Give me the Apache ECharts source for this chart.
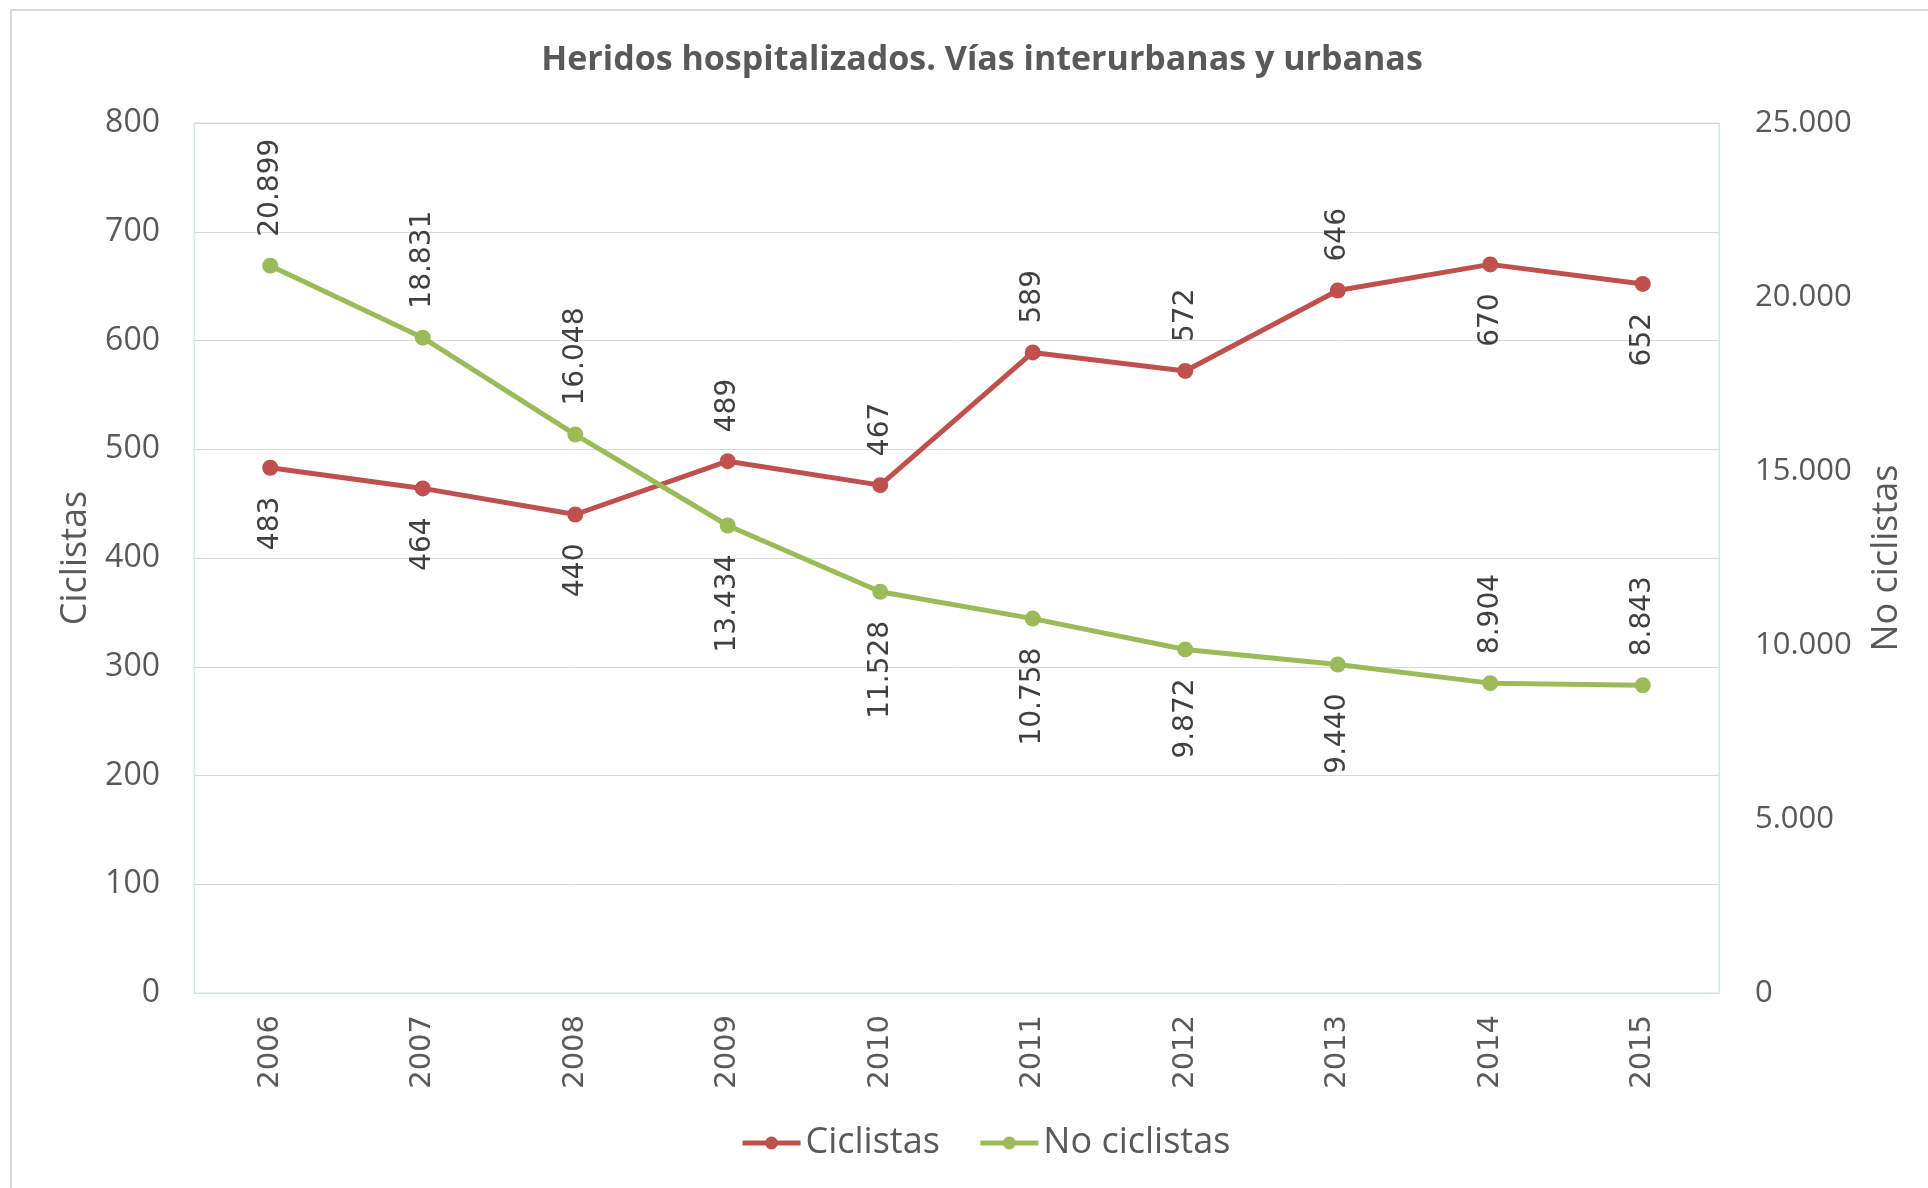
<!DOCTYPE html>
<html>
<head>
    <meta charset="utf-8">
    <title>Heridos hospitalizados</title>
    <script src="https://cdn.jsdelivr.net/npm/echarts@6/dist/echarts.min.js"></script>
</head>
<style>
    html, body { margin: 0; padding: 0; background: #fff; }
    #main { width: 1928px; height: 1188px; }
</style>
<body>
<div id="main"></div>
<script>
    // datos
    var years = ['2006', '2007', '2008', '2009', '2010', '2011', '2012', '2013', '2014', '2015'];
    var ciclistas = [483, 464, 440, 489, 467, 589, 572, 646, 670, 652];
    var noCiclistas = [20899, 18831, 16048, 13434, 11528, 10758, 9872, 9440, 8904, 8843];
    // lado de la etiqueta de cada punto
    var ladoCiclistas = ['bottom', 'bottom', 'bottom', 'top', 'top', 'top', 'top', 'top', 'bottom', 'bottom'];
    var ladoNoCiclistas = ['top', 'top', 'top', 'bottom', 'bottom', 'bottom', 'bottom', 'bottom', 'top', 'top'];

    function miles(v) {
        return String(v).replace(/\B(?=(\d{3})+(?!\d))/g, '.');
    }

    function puntos(values, lados) {
        var out = [];
        for (var i = 0; i < values.length; i++) {
            var arriba = lados[i] === 'top';
            out.push({
                value: values[i],
                label: {position: lados[i], align: arriba ? 'left' : 'right'}
            });
        }
        return out;
    }

    var etiqueta = {
        show: true, rotate: 90, distance: 21, verticalAlign: 'middle',
        color: '#404040', fontFamily: 'DejaVu Sans', fontSize: 28,
        formatter: function (p) { return miles(p.value); }
    };

    var myChart = echarts.init(document.getElementById('main'));
    var option = {
        animation: false,
        backgroundColor: '#fff',
        title: {
            text: 'Heridos hospitalizados. Vías interurbanas y urbanas',
            left: 977, top: 38, textAlign: 'center',
            textStyle: {fontFamily: 'Open Sans', fontWeight: 'bold', fontSize: 34, color: '#595959'}
        },
        graphic: [{
            type: 'rect', shape: {x: 11, y: 10, width: 1940, height: 1200},
            style: {fill: 'none', stroke: '#d9d9d9', lineWidth: 2}, silent: true
        }],
        legend: {
            left: 735, top: 1120, itemWidth: 58, itemHeight: 16, itemGap: 38,
            lineStyle: {width: 5},
            textStyle: {fontFamily: 'Open Sans', fontSize: 36, color: '#595959'},
            data: ['Ciclistas', 'No ciclistas']
        },
        grid: {
            left: 194, right: 209, top: 123, bottom: 195,
            show: true, borderColor: '#cfe6ee', borderWidth: 1
        },
        xAxis: {
            type: 'category', data: years, boundaryGap: true,
            axisLine: {lineStyle: {color: '#d9d9d9'}},
            axisTick: {show: false},
            axisLabel: {rotate: 90, margin: 22, fontFamily: 'DejaVu Sans', fontSize: 29, color: '#595959'}
        },
        yAxis: [{
            type: 'value', min: 0, max: 800, interval: 100,
            name: 'Ciclistas', nameLocation: 'middle', nameGap: 100, nameRotate: 90,
            nameTextStyle: {fontFamily: 'Open Sans', fontSize: 36, color: '#595959'},
            axisLine: {show: true, lineStyle: {color: '#cfe6ee'}},
            axisTick: {show: false},
            axisLabel: {margin: 34, fontFamily: 'Open Sans', fontSize: 32, color: '#595959'},
            splitLine: {lineStyle: {color: '#d9d9d9'}}
        }, {
            type: 'value', min: 0, max: 25000, interval: 5000,
            name: 'No ciclistas', nameLocation: 'middle', nameGap: 150, nameRotate: 90,
            nameTextStyle: {fontFamily: 'Open Sans', fontSize: 36, color: '#595959'},
            axisLine: {show: true, lineStyle: {color: '#cfe6ee'}},
            axisTick: {show: false},
            axisLabel: {margin: 36, fontFamily: 'Open Sans', fontSize: 31, color: '#595959',
                formatter: function (v) { return miles(v); }},
            splitLine: {show: false}
        }],
        series: [{
            name: 'Ciclistas', type: 'line', yAxisIndex: 0,
            data: puntos(ciclistas, ladoCiclistas),
            symbol: 'circle', symbolSize: 16,
            itemStyle: {color: '#C0504D'}, lineStyle: {color: '#C0504D', width: 5},
            label: etiqueta
        }, {
            name: 'No ciclistas', type: 'line', yAxisIndex: 1,
            data: puntos(noCiclistas, ladoNoCiclistas),
            symbol: 'circle', symbolSize: 16,
            itemStyle: {color: '#9BBB59'}, lineStyle: {color: '#9BBB59', width: 5},
            label: etiqueta
        }]
    };
    myChart.setOption(option);
</script>
</body>
</html>
